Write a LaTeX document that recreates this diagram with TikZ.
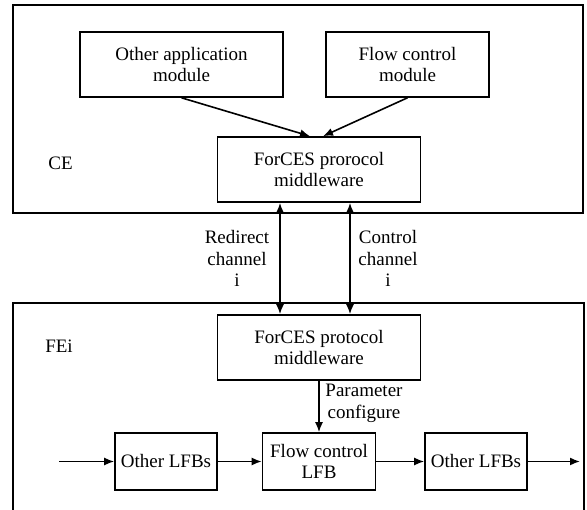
\documentclass[tikz,border=0pt]{standalone}
\usepackage{fontspec}
\setmainfont{Liberation Serif}
\usetikzlibrary{arrows.meta}
\begin{document}
\begin{tikzpicture}[x=1pt,y=-1pt,
  every node/.style={font=\fontsize{19}{21.5}\selectfont},
  block/.style={draw,line width=1.6pt,align=center,inner sep=0pt},
  frame/.style={draw,line width=1.6pt},
  tip/.tip={Latex[length=10pt,width=8pt]},
  conn/.style={line width=1.6pt,-tip},
  biconn/.style={line width=1.6pt,tip-tip},
  lbl/.style={align=center,inner sep=0pt}]
\useasboundingbox (0,0) rectangle (587,510);
\begin{scope}
\clip (0,0) rectangle (587,510);
% outer frames of the control element and the forwarding element
\draw[frame] (13,5) rectangle (583,213);
\draw[frame] (13,303) rectangle (584,540);
\end{scope}

% control element
\node[block,minimum width=203pt,minimum height=65pt] (oam) at (181.5,64.5) {Other application\\module};
\node[block,minimum width=163pt,minimum height=65pt] (fcm) at (407.5,64.5) {Flow control\\module};
\node[block,minimum width=203pt,minimum height=65pt] (cemw) at (319,169.5) {ForCES prorocol\\middleware};
\node[lbl] (ce) at (60.5,163) {CE};

% forwarding element
\node[block,minimum width=203pt,minimum height=65pt] (femw) at (319,347.5) {ForCES protocol\\middleware};
\node[lbl] (fe) at (59,346) {FEi};
\node[block,minimum width=102pt,minimum height=57pt] (lfba) at (166,461.5) {Other LFBs};
\node[block,minimum width=113pt,minimum height=57pt] (fcl) at (319,461.5) {Flow control\\LFB};
\node[block,minimum width=102pt,minimum height=57pt] (lfbb) at (476,461.5) {Other LFBs};
\coordinate (in) at (59,461.5);
\coordinate (out) at (580,461.5);

% connectors
\draw[conn] (oam.south) -- ([xshift=-9pt]cemw.north);
\draw[conn] (fcm.south) -- ([xshift=4pt]cemw.north);
\draw[biconn] ([xshift=-39pt]cemw.south) -- ([xshift=-39pt]femw.north);
\draw[biconn] ([xshift=31pt]cemw.south) -- ([xshift=31pt]femw.north);
\draw[conn] (femw.south) -- (fcl.north);
\draw[conn] (in) -- (lfba.west);
\draw[conn] (lfba.east) -- (fcl.west);
\draw[conn] (fcl.east) -- (lfbb.west);
\draw[conn] (lfbb.east) -- (out);

% connector labels
\node[lbl] (rc) at (237,258.5) {Redirect\\channel\\i};
\node[lbl] (cc) at (388,258.5) {Control\\channel\\i};
\node[lbl] (pc) at (364,403.5) {Parameter\\configure};
\end{tikzpicture}
\end{document}
